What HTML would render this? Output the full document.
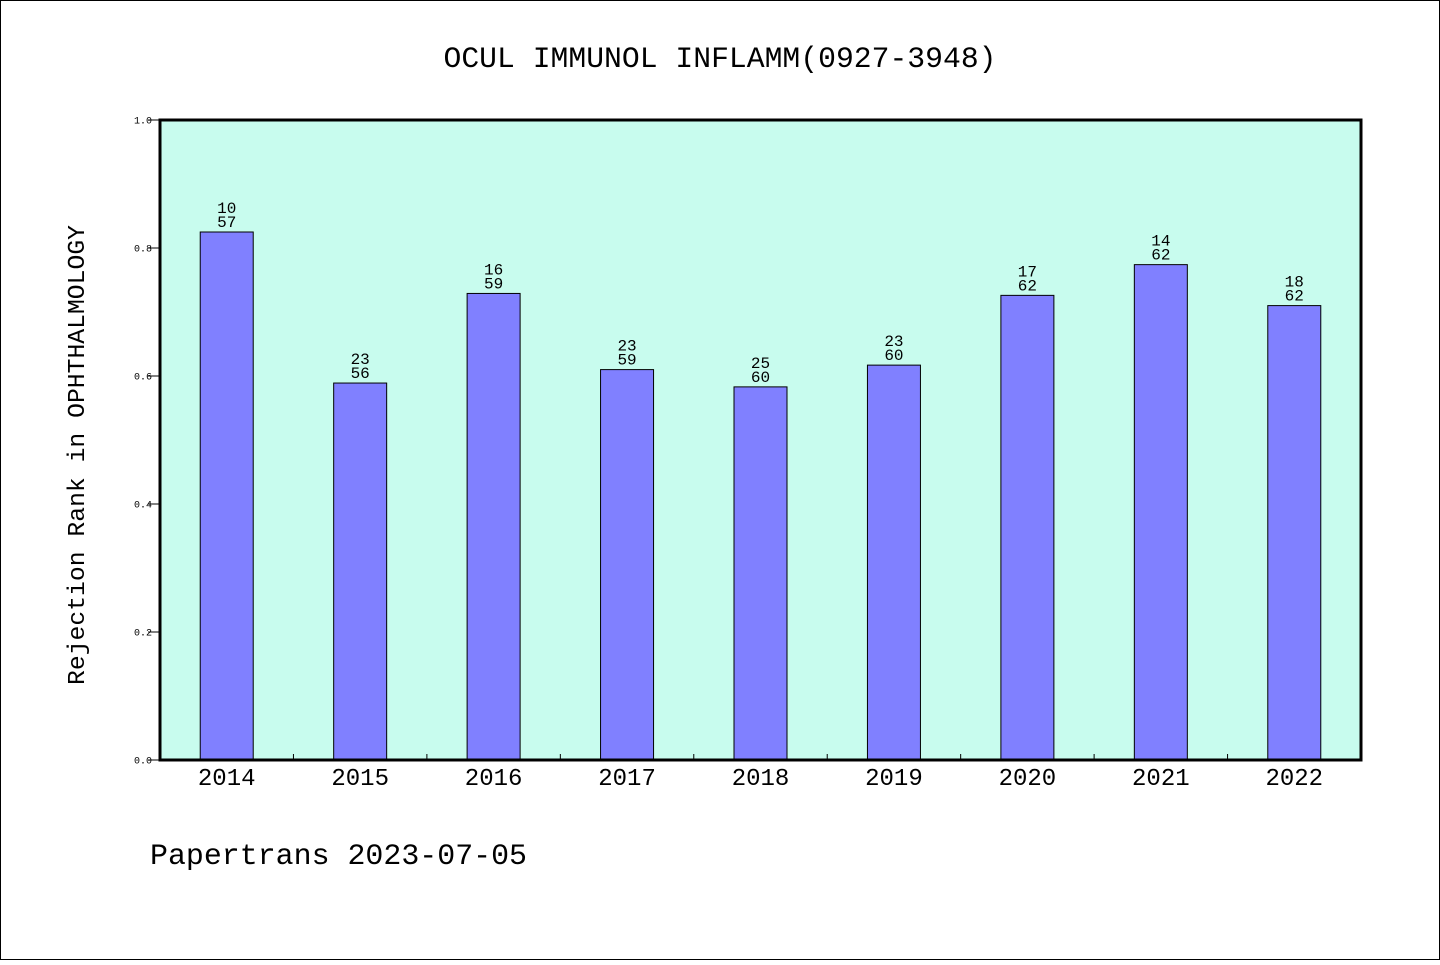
<!DOCTYPE html>
<html><head><meta charset="utf-8"><style>
html,body{margin:0;padding:0;background:#fff}
svg text{font-family:"WenQuanYi Zen Hei","Liberation Mono",monospace;fill:#000}
</style></head><body>
<svg id="chart" width="1440" height="960" viewBox="0 0 1440 960" xmlns="http://www.w3.org/2000/svg">
<rect x="0.5" y="0.5" width="1439" height="959" fill="#fff" stroke="#000"/>
<text x="720" y="67" font-size="30" text-anchor="middle" textLength="553" lengthAdjust="spacingAndGlyphs">OCUL IMMUNOL INFLAMM(0927-3948)</text>
<rect x="160" y="120" width="1201" height="640" fill="#c8fcee"/>
<g id="bars"></g>
<rect x="160" y="120" width="1201" height="640" fill="none" stroke="#000" stroke-width="3"/>
<g id="axes"></g>
<text transform="translate(84,455) rotate(-90)" font-size="24" text-anchor="middle" textLength="460" lengthAdjust="spacingAndGlyphs">Rejection Rank in OPHTHALMOLOGY</text>
<text x="150" y="864" font-size="30" textLength="377" lengthAdjust="spacingAndGlyphs">Papertrans 2023-07-05</text>
</svg>
<script>
const categories=["2014","2015","2016","2017","2018","2019","2020","2021","2022"];
const values=[0.825,0.589,0.729,0.610,0.583,0.617,0.726,0.774,0.710];
const ranks=["10","23","16","23","25","23","17","14","18"];
const totals=["57","56","59","59","60","60","62","62","62"];
const yTicks=[0,0.2,0.4,0.6,0.8,1.0];
const yTickLabels=["0.0","0.2","0.4","0.6","0.8","1.0"];
const NS="http://www.w3.org/2000/svg";
const X0=160,X1=1361,Y0=760,Y1=120;
const band=(X1-X0)/categories.length;
const xc=i=>X0+band*(i+0.5);
const y=v=>Y0-(Y0-Y1)*v;
function mk(t,a,p){const e=document.createElementNS(NS,t);for(const k in a)e.setAttribute(k,a[k]);p.appendChild(e);return e;}
const bars=document.getElementById('bars'),axes=document.getElementById('axes');
categories.forEach((c,i)=>{
 const r=mk('rect',{x:xc(i)-26.5,y:y(values[i]),width:53,height:Y0-y(values[i]),fill:'#8080ff',stroke:'#000','stroke-width':1},bars);
 
 
 const t1=mk('text',{x:xc(i),y:y(values[i])-19,'font-size':16,'text-anchor':'middle'},bars);t1.textContent=ranks[i];
 
 
 const t2=mk('text',{x:xc(i),y:y(values[i])-5,'font-size':16,'text-anchor':'middle'},bars);t2.textContent=totals[i];
 
 
 const xl=mk('text',{x:xc(i),y:785,'font-size':24,'text-anchor':'middle'},axes);xl.textContent=c;
 
 
 if(i>0){const tk=mk('line',{x1:X0+band*i,x2:X0+band*i,y1:Y0,y2:Y0-6,stroke:'#000'},axes);
 
 }
});
yTicks.forEach((v,i)=>{
 const l=mk('line',{x1:148,x2:160,y1:y(v),y2:y(v),stroke:'#000'},axes);
 
 
 const t=mk('text',{x:152,y:y(v)+3.5,'font-size':10,'text-anchor':'end'},axes);t.textContent=yTickLabels[i];
 
 
});
</script>
</body></html>
